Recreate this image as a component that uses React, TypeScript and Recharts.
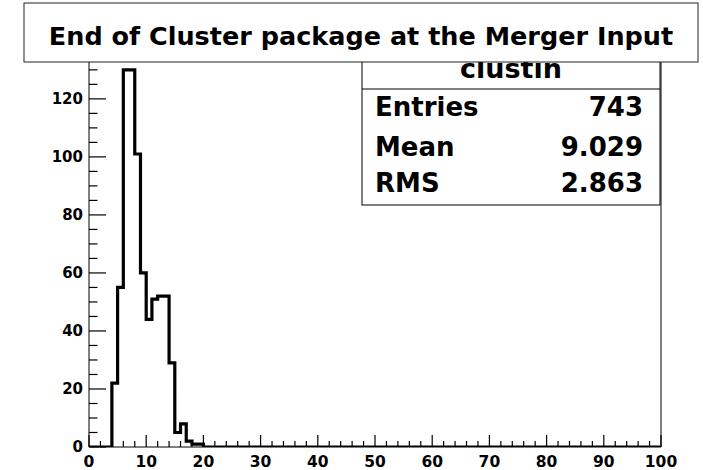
import { ComposedChart, Line, XAxis, YAxis, ReferenceArea } from "recharts";

// histogram: lower bin edge and bin content (bin width 1)
const binLow = [0, 4, 5, 6, 7, 8, 9, 10, 11, 12, 13, 14, 15, 16, 17, 18, 19, 20, 100];
const counts = [0, 22, 55, 130, 130, 101, 60, 44, 51, 52, 52, 29, 5, 8, 2, 1, 1, 0, 0];

const xMajor = [0, 10, 20, 30, 40, 50, 60, 70, 80, 90, 100];
const yMajor = [0, 20, 40, 60, 80, 100, 120];

const title = "End of Cluster package at the Merger Input";
const statName = "clustin";
const statLabels = ["Entries", "Mean", "RMS"];
const statValues = ["743", "9.029", "2.863"];

const yMax = 136.5;
const font = "'DejaVu Sans', sans-serif";

const data = binLow.map((x, i) => ({ x, count: counts[i] }));

// minor ticks every 2 on x, every 5 on y
const xTicks: number[] = [];
for (let v = 0; v <= 100; v += 2) xTicks.push(v);
const yTicks: number[] = [];
for (let v = 0; v <= 135; v += 5) yTicks.push(v);

function XTick(props: any) {
    const { x, y, payload } = props;
    const major = xMajor.includes(payload.value);
    return (
        <g>
            <line x1={x} x2={x} y1={y} y2={y - (major ? 12 : 6)} stroke="#000" strokeWidth={1.2} />
            {major && (
                <text x={x} y={y + 20} textAnchor="middle" fontFamily={font} fontWeight="bold" fontSize={15.5} fill="#000">
                    {payload.value}
                </text>
            )}
        </g>
    );
}

function YTick(props: any) {
    const { x, y, payload } = props;
    const major = yMajor.includes(payload.value);
    return (
        <g>
            <line x1={x} x2={x + (major ? 17 : 8.5)} y1={y} y2={y} stroke="#000" strokeWidth={1.2} />
            {major && (
                <text x={x - 6} y={y + 5} textAnchor="end" fontFamily={font} fontWeight="bold" fontSize={15} fill="#000">
                    {payload.value}
                </text>
            )}
        </g>
    );
}

export default function App() {
    const rowY = [116, 156, 192];
    return (
        <div style={{ position: "absolute", left: 0, top: 0, width: 703, height: 470, background: "#fff" }}>
            <ComposedChart width={703} height={470} data={data} margin={{ top: 51, right: 42, bottom: 0, left: 49 }}>
                <XAxis
                    type="number"
                    dataKey="x"
                    domain={[0, 100]}
                    ticks={xTicks}
                    interval={0}
                    height={23}
                    tickSize={0}
                    tickMargin={0}
                    axisLine={false}
                    tickLine={false}
                    tick={(p: any) => <XTick {...p} />}
                />
                <YAxis
                    type="number"
                    domain={[0, yMax]}
                    allowDataOverflow
                    ticks={yTicks}
                    interval={0}
                    width={40}
                    tickSize={0}
                    tickMargin={0}
                    axisLine={false}
                    tickLine={false}
                    tick={(p: any) => <YTick {...p} />}
                />
                <ReferenceArea x1={0} x2={100} y1={0} y2={yMax} fill="none" stroke="#000" strokeWidth={1} ifOverflow="visible" />
                <Line
                    type="stepAfter"
                    dataKey="count"
                    stroke="#000"
                    strokeWidth={3.2}
                    dot={false}
                    activeDot={false}
                    strokeLinejoin="miter"
                    isAnimationActive={false}
                />
            </ComposedChart>
            <svg width={703} height={470} style={{ position: "absolute", left: 0, top: 0, pointerEvents: "none" }}>
                <rect x={362} y={40} width={298} height={165} fill="#fff" stroke="#000" strokeWidth={1} />
                <text x={511} y={78} textAnchor="middle" fontFamily={font} fontWeight="bold" fontSize={27}>{statName}</text>
                <line x1={362} x2={660} y1={89} y2={89} stroke="#000" strokeWidth={1} />
                {statLabels.map((s, i) => (
                    <g key={s}>
                        <text x={375} y={rowY[i]} fontFamily={font} fontWeight="bold" fontSize={26}>{s}</text>
                        <text x={643} y={rowY[i]} textAnchor="end" fontFamily={font} fontWeight="bold" fontSize={26}>{statValues[i]}</text>
                    </g>
                ))}
                <rect x={24} y={3} width={674} height={59} fill="#fff" stroke="#222" strokeWidth={1} />
                <text x={361} y={45} textAnchor="middle" fontFamily={font} fontWeight="bold" fontSize={25.5}>{title}</text>
            </svg>
        </div>
    );
}
